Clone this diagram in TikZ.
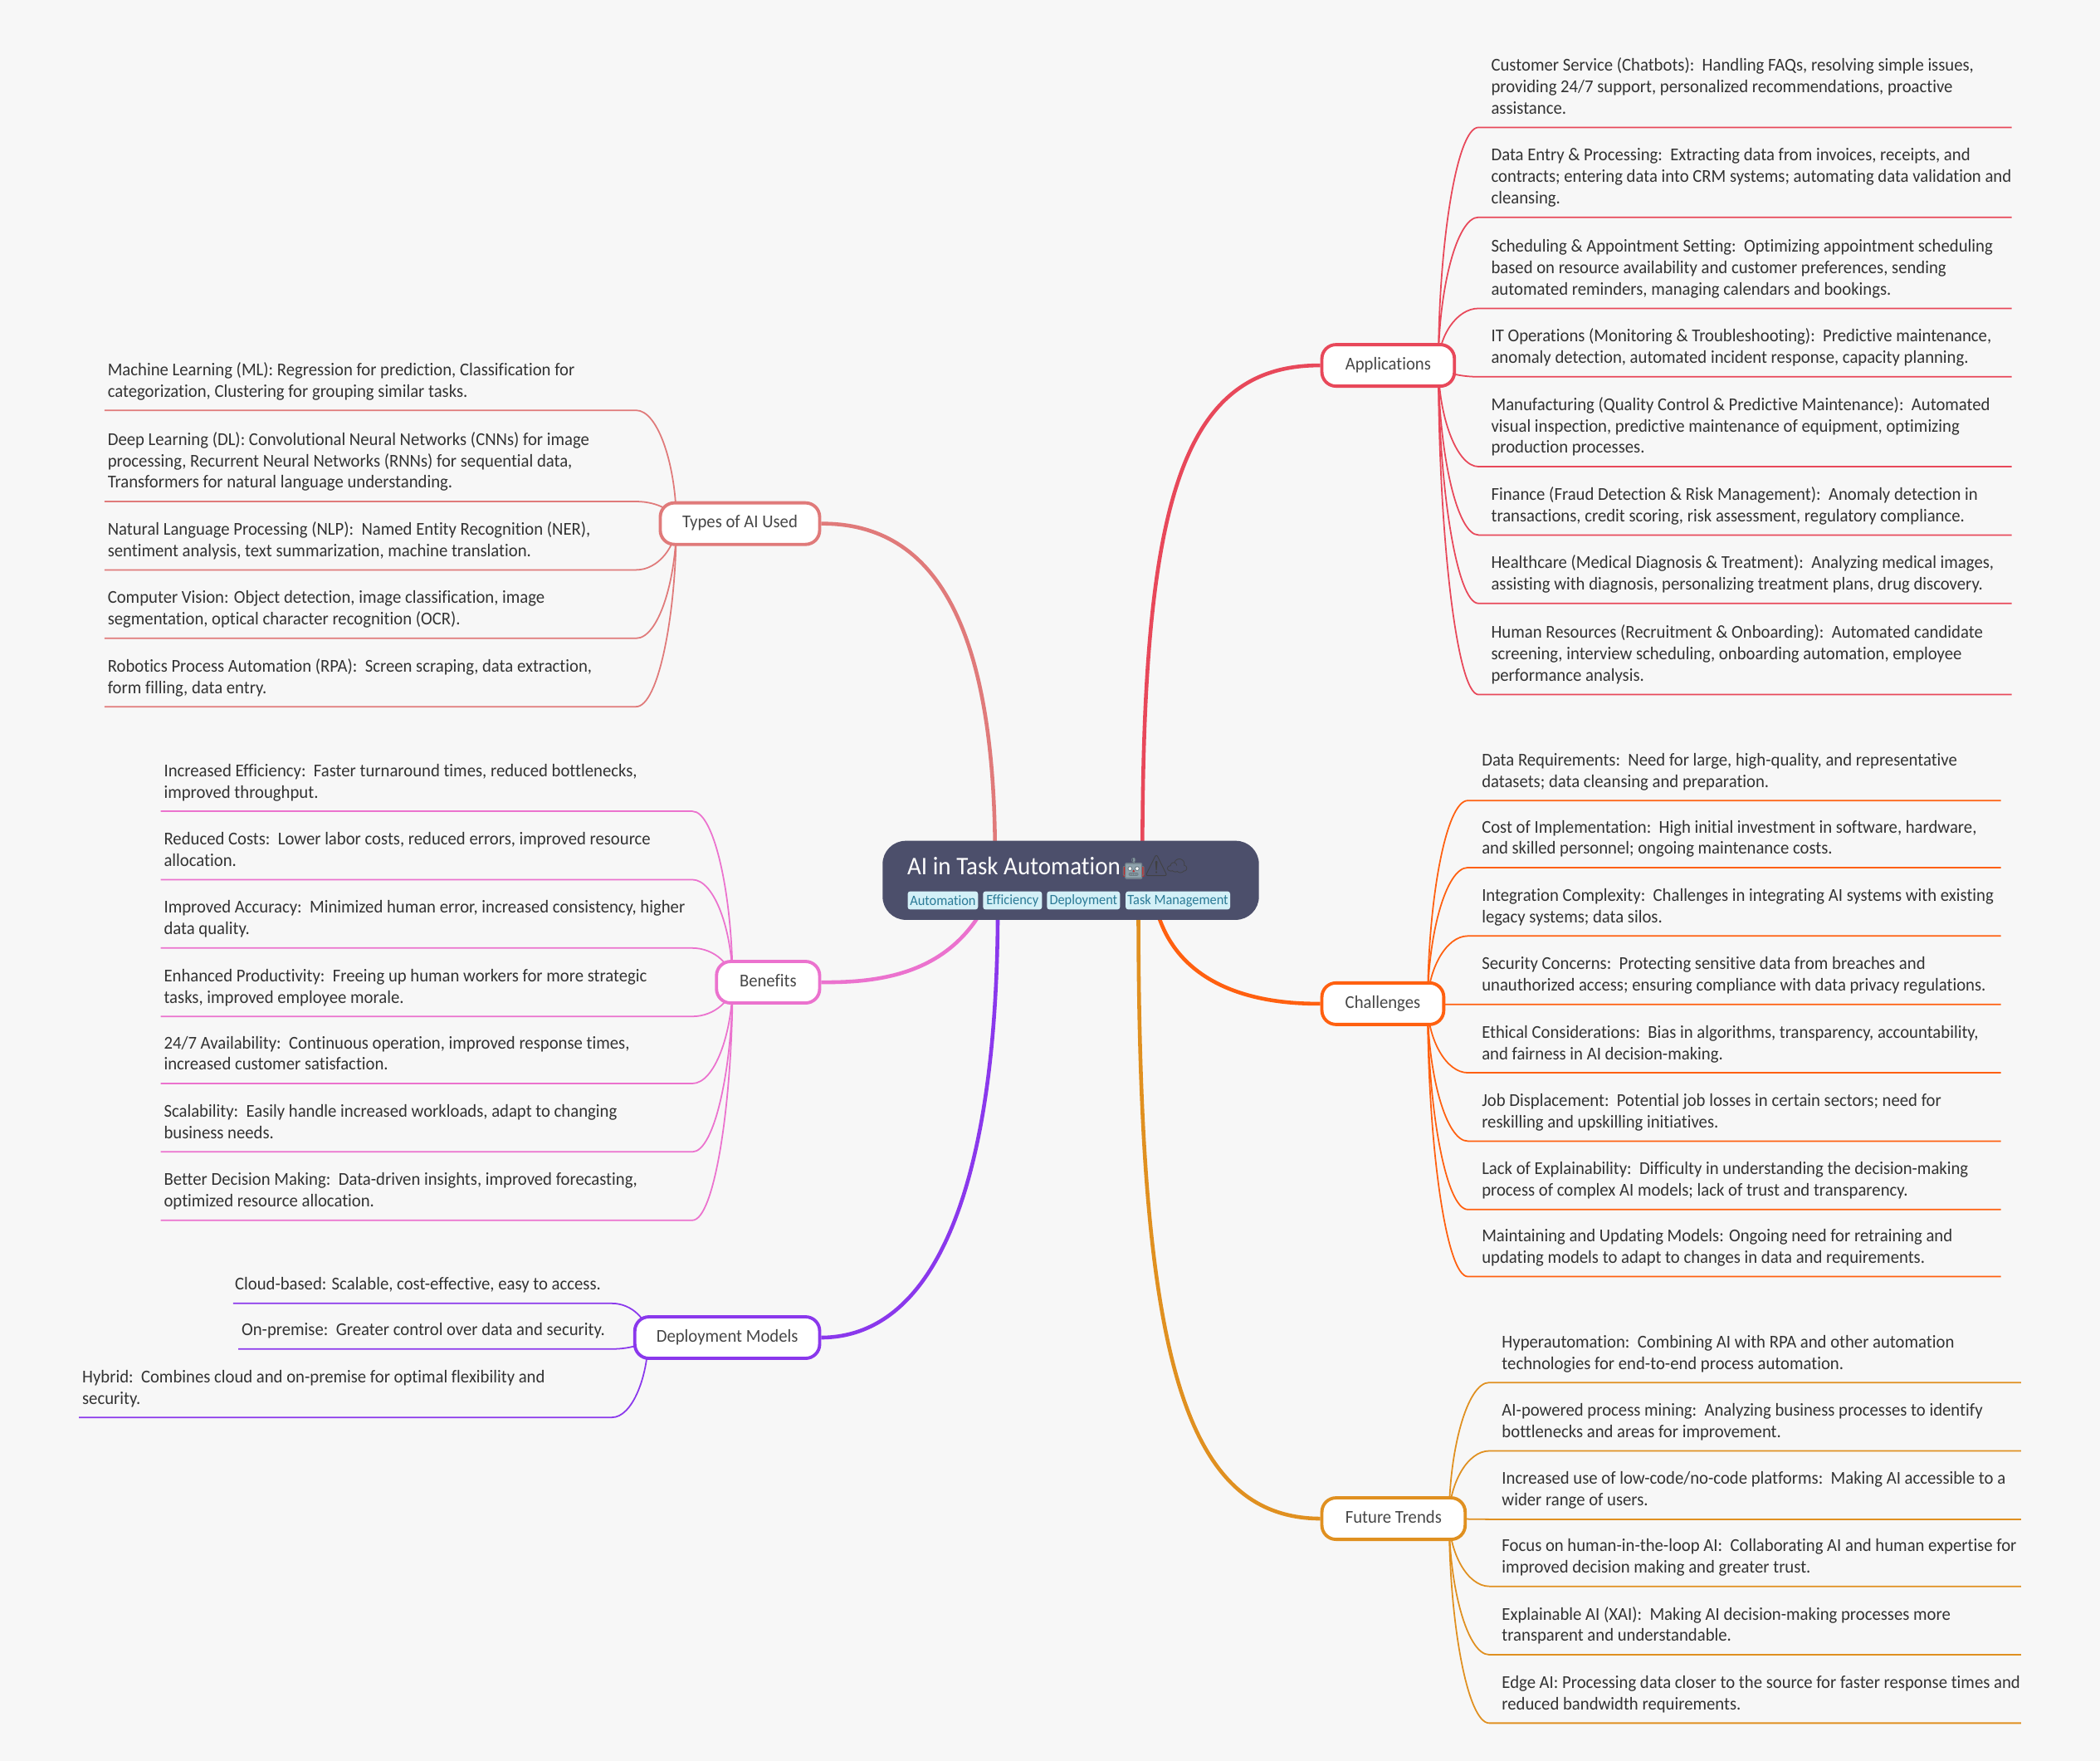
\documentclass[tikz,border=0pt]{standalone}
\usepackage{fontspec}
\usepackage{xcolor}
\setmainfont[FakeStretch=0.95,RawFeature={-liga}]{Carlito}
\newfontfamily\emojifont{Noto Emoji}
\usetikzlibrary{backgrounds,calc}

\definecolor{pagebg}{HTML}{F7F7F7}
\definecolor{hubfill}{HTML}{4C4F6B}
\definecolor{tagfill}{HTML}{D3F0F7}
\definecolor{tagtext}{HTML}{2B7A96}
\definecolor{inktext}{HTML}{333333}
\definecolor{botgray}{HTML}{8FA3AD}
\definecolor{botred}{HTML}{C62828}
\definecolor{appred}{HTML}{E8485A}
\definecolor{typerose}{HTML}{E07A7A}
\definecolor{benpink}{HTML}{EB72CE}
\definecolor{deppurple}{HTML}{8A38EC}
\definecolor{chalorange}{HTML}{FF6010}
\definecolor{futamber}{HTML}{E09020}

\def\pxu{0.0161352cm}

\tikzset{
    leaf/.style={anchor=south west, inner sep=0pt, align=left, text depth=0pt, text=inktext,
        font=\fontsize{6.2}{7.35}\selectfont},
    branch/.style={draw=#1, fill=white, line width=1.1pt, rounded corners=0.17cm, inner sep=0pt,
        text=inktext!90, minimum height=31*\pxu, text height=4.3pt, text depth=1.3pt,
        font=\fontsize{6.2}{7.35}\selectfont},
    trunk/.style={draw=#1, line width=1.3pt},
    twig/.style={draw=#1, line width=0.5pt},
    tagbox/.style={fill=tagfill, text=tagtext, rounded corners=0.03cm, inner sep=0pt,
        minimum height=13.5*\pxu, font=\fontsize{4.9}{6}\selectfont},
    glyph/.style={inner sep=0pt, font=\fontsize{7}{9}\emojifont}
}

% one group of leaves: prefix, colour, text x, corner x, far x, list
\newcommand{\leafset}[6]{%
    \foreach \id/\under/\body in {#6} {
        \node[leaf] (#1-\id) at (#3,\under-9.5) {\body};
        \coordinate (#1-\id-corner) at (#4,\under);
        \coordinate (#1-\id-end) at (#5,\under);
        \begin{scope}[on background layer]
            \draw[twig=#2] (#1-out)
                .. controls ($(#1-out)!.5!(#1-out|-#1-\id-corner)$)
                and ($(#1-out|-#1-\id-corner)!.45!(#1-\id-corner)$) .. (#1-\id-corner)
                -- (#1-\id-end);
        \end{scope}
    }%
}

\begin{document}
\begin{tikzpicture}[x=0.0161352cm, y=-0.016139cm]
    \useasboundingbox (0,0) rectangle (1568,1313);

    % --- Page ---
    \begin{scope}[on background layer]
        \fill[pagebg] (0,0) rectangle (1568,1313);
    \end{scope}

    % --- Centre ---
    \node[fill=hubfill, rounded corners=0.28cm, minimum width=281*\pxu, minimum height=59*\pxu] (hub) at (799.5,656.5) {};
    \node[anchor=west, inner sep=0pt, text=white, font=\fontsize{8.7}{11}\selectfont] (title) at (677,646)
        {AI in Task Automation};
    % robot colours sit under the glyph
    \fill[botred] (838.8,646.3) rectangle (840.5,653.7) (852.5,646.3) rectangle (854.2,653.7);
    \fill[botgray, rounded corners=0.01cm] (840.2,643.5) rectangle (852.8,655.5);
    \fill[botgray] (846,639.5) rectangle (847,643.5);
    \fill[white] (843.8,647.8) circle (1.3) (849.2,647.8) circle (1.3);
    \node[glyph, text=botgray!75!black] (robot) at (846.5,647.5) {🤖};
    \fill[botred] (846.5,649.6) circle (0.8);
    \node[glyph, text=black!75] (warn) at (863.5,646) {⚠};
    \node[glyph, text=black!75, font=\fontsize{6}{9}\emojifont] (cloud) at (879,646) {☁};
    \node[tagbox, minimum width=52.5*\pxu] (tag1) at (704,671.5) {Automation};
    \node[tagbox, minimum width=44*\pxu] (tag2) at (756,671.5) {Efficiency};
    \node[tagbox, minimum width=54.5*\pxu] (tag3) at (809,671.5) {Deployment};
    \node[tagbox, minimum width=78*\pxu] (tag4) at (879.5,671.5) {Task Management};

    % --- Branches ---
    \node[branch=appred, minimum width=99*\pxu] (apps) at (1036.5,272.5) {Applications};
    \node[branch=typerose, minimum width=119*\pxu] (types) at (552.5,390.5) {Types of AI Used};
    \node[branch=benpink, minimum width=77*\pxu] (bens) at (573.5,732.5) {Benefits};
    \node[branch=deppurple, minimum width=138*\pxu] (deps) at (543,997.5) {Deployment Models};
    \node[branch=chalorange, minimum width=91*\pxu] (chal) at (1032.5,748.5) {Challenges};
    \node[branch=futamber, minimum width=107*\pxu] (futs) at (1040.5,1132.5) {Future Trends};

    % --- Trunks ---
    \coordinate (hub-app) at (853,640);
    \coordinate (hub-type) at (743,640);
    \coordinate (hub-ben) at (735,676);
    \coordinate (hub-dep) at (745,676);
    \coordinate (hub-chal) at (863,676);
    \coordinate (hub-fut) at (850,676);
    \begin{scope}[on background layer]
        \draw[trunk=appred] (hub-app) .. controls (853,380) and (880,272) .. (apps.west);
        \draw[trunk=typerose] (hub-type) .. controls (743,470) and (700,390) .. (types.east);
        \draw[trunk=benpink] (hub-ben) .. controls (708,725) and (660,733) .. (bens.east);
        \draw[trunk=deppurple] (hub-dep) .. controls (745,880) and (700,997) .. (deps.east);
        \draw[trunk=chalorange] (hub-chal) .. controls (875,725) and (920,749) .. (chal.west);
        \draw[trunk=futamber] (hub-fut) .. controls (850,1000) and (880,1132) .. (futs.west);
    \end{scope}

    % --- Leaves, right ---
    \coordinate (ap-out) at (1074,272);
    \leafset{ap}{appred}{1113}{1104}{1502}{
        1/95/{Customer Service (Chatbots):~~Handling FAQs, resolving simple issues,\\providing 24/7 support, personalized recommendations, proactive\\assistance.},
        2/162/{Data Entry \& Processing:~~Extracting data from invoices, receipts, and\\contracts; entering data into CRM systems; automating data validation and\\cleansing.},
        3/230/{Scheduling \& Appointment Setting:~~Optimizing appointment scheduling\\based on resource availability and customer preferences, sending\\automated reminders, managing calendars and bookings.},
        4/281/{IT Operations (Monitoring \& Troubleshooting):~~Predictive maintenance,\\anomaly detection, automated incident response, capacity planning.},
        5/348/{Manufacturing (Quality Control \& Predictive Maintenance):~~Automated\\visual inspection, predictive maintenance of equipment, optimizing\\production processes.},
        6/399/{Finance (Fraud Detection \& Risk Management):~~Anomaly detection in\\transactions, credit scoring, risk assessment, regulatory compliance.},
        7/450/{Healthcare (Medical Diagnosis \& Treatment):~~Analyzing medical images,\\assisting with diagnosis, personalizing treatment plans, drug discovery.},
        8/518/{Human Resources (Recruitment \& Onboarding):~~Automated candidate\\screening, interview scheduling, onboarding automation, employee\\performance analysis.}}

    \coordinate (ch-out) at (1066,749);
    \leafset{ch}{chalorange}{1106}{1096}{1494}{
        1/597/{Data Requirements:~~Need for large, high-quality, and representative\\datasets; data cleansing and preparation.},
        2/647/{Cost of Implementation:~~High initial investment in software, hardware,\\and skilled personnel; ongoing maintenance costs.},
        3/698/{Integration Complexity:~~Challenges in integrating AI systems with existing\\legacy systems; data silos.},
        4/749/{Security Concerns:~~Protecting sensitive data from breaches and\\unauthorized access; ensuring compliance with data privacy regulations.},
        5/800/{Ethical Considerations:~~Bias in algorithms, transparency, accountability,\\and fairness in AI decision-making.},
        6/851/{Job Displacement:~~Potential job losses in certain sectors; need for\\reskilling and upskilling initiatives.},
        7/902/{Lack of Explainability:~~Difficulty in understanding the decision-making\\process of complex AI models; lack of trust and transparency.},
        8/952/{Maintaining and Updating Models: Ongoing need for retraining and\\updating models to adapt to changes in data and requirements.}}

    \coordinate (fu-out) at (1082,1132);
    \leafset{fu}{futamber}{1121}{1112}{1509}{
        1/1031/{Hyperautomation:~~Combining AI with RPA and other automation\\technologies for end-to-end process automation.},
        2/1082/{AI-powered process mining:~~Analyzing business processes to identify\\bottlenecks and areas for improvement.},
        3/1133/{Increased use of low-code/no-code platforms:~~Making AI accessible to a\\wider range of users.},
        4/1183/{Focus on human-in-the-loop AI:~~Collaborating AI and human expertise for\\improved decision making and greater trust.},
        5/1234/{Explainable AI (XAI):~~Making AI decision-making processes more\\transparent and understandable.},
        6/1285/{Edge AI: Processing data closer to the source for faster response times and\\reduced bandwidth requirements.}}

    % --- Leaves, left ---
    \coordinate (ty-out) at (505,390);
    \leafset{ty}{typerose}{80}{475}{78}{
        1/306/{Machine Learning (ML): Regression for prediction, Classification for\\categorization, Clustering for grouping similar tasks.},
        2/374/{Deep Learning (DL): Convolutional Neural Networks (CNNs) for image\\processing, Recurrent Neural Networks (RNNs) for sequential data,\\Transformers for natural language understanding.},
        3/425/{Natural Language Processing (NLP):~~Named Entity Recognition (NER),\\sentiment analysis, text summarization, machine translation.},
        4/476/{Computer Vision: Object detection, image classification, image\\segmentation, optical character recognition (OCR).},
        5/527/{Robotics Process Automation (RPA):~~Screen scraping, data extraction,\\form filling, data entry.}}

    \coordinate (be-out) at (547,733);
    \leafset{be}{benpink}{122}{517}{120}{
        1/605/{Increased Efficiency:~~Faster turnaround times, reduced bottlenecks,\\improved throughput.},
        2/656/{Reduced Costs:~~Lower labor costs, reduced errors, improved resource\\allocation.},
        3/707/{Improved Accuracy:~~Minimized human error, increased consistency, higher\\data quality.},
        4/758/{Enhanced Productivity:~~Freeing up human workers for more strategic\\tasks, improved employee morale.},
        5/808/{24/7 Availability:~~Continuous operation, improved response times,\\increased customer satisfaction.},
        6/859/{Scalability:~~Easily handle increased workloads, adapt to changing\\business needs.},
        7/910/{Better Decision Making:~~Data-driven insights, improved forecasting,\\optimized resource allocation.}}

    \coordinate (de-out) at (484,997);
    \leafset{de}{deppurple}{175}{457}{174}{1/972/{Cloud-based: Scalable, cost-effective, easy to access.}}
    \leafset{de}{deppurple}{180}{457}{178}{2/1006/{On-premise:~~Greater control over data and security.}}
    \leafset{de}{deppurple}{61}{457}{59}{3/1057/{Hybrid:~~Combines cloud and on-premise for optimal flexibility and\\security.}}

\end{tikzpicture}
\end{document}
